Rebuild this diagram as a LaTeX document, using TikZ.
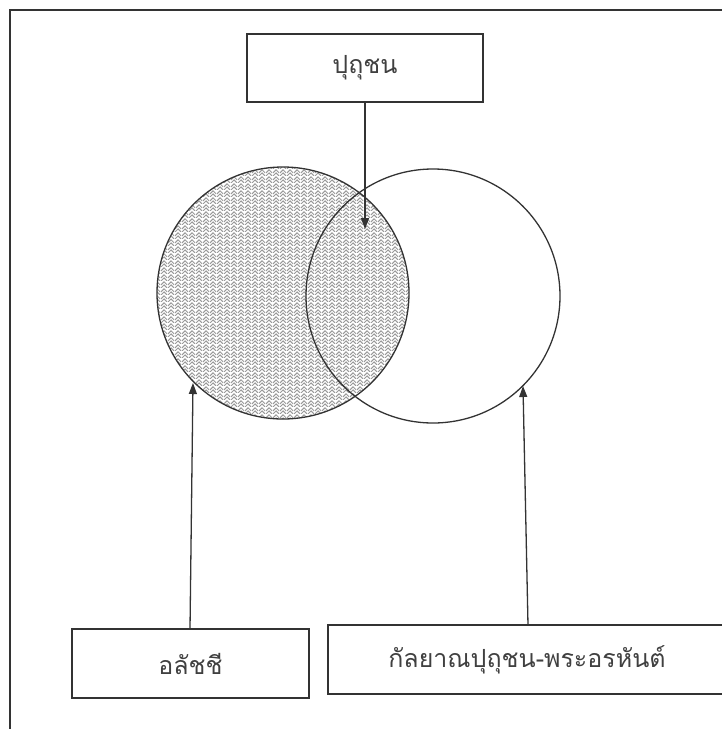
\documentclass[tikz,border=0pt]{standalone}
\usepackage{fontspec}
\newfontfamily\thaifont[Script=Thai]{Loma}
\usetikzlibrary{arrows.meta,patterns.meta}
\tikzdeclarepattern{
  name=weave,
  type=uncolored,
  bounding box={(0,0) and (7pt,7pt)},
  tile size={(7pt,7pt)},
  code={
    \draw[line width=1.1pt] (0,0) -- (3.5pt,3.5pt) -- (7pt,0);
    \draw[line width=1.1pt] (0,3.5pt) -- (3.5pt,7pt) -- (7pt,3.5pt);
  }
}
\tikzset{
  line/.style={draw=black!80, line width=1.3pt},
  box/.style={line, rectangle, inner sep=0pt, font=\thaifont\fontsize{25}{30}\selectfont, text=black!75},
  arr/.style={line, -{Triangle[length=11pt,width=8pt]}},
}
\begin{document}
\begin{tikzpicture}[x=1pt,y=-1pt]
\useasboundingbox (0,0) rectangle (722,729);
\clip (0,0) rectangle (722,729);
% outer frame
\draw[line] (10,729) -- (10,10) -- (730,10);
% circles
\path[pattern={weave}, pattern color=black!40] (283,293) circle (126);
\draw[line] (283,293) circle (126);
\draw[line] (433,296) circle (127);
% boxes
\node[box, minimum width=236, minimum height=68] (top) at (365,68) {ปุถุชน};
\node[box, minimum width=237, minimum height=69] (left) at (190.5,663.5) {อลัชชี};
\node[box, minimum width=398, minimum height=69, text width=398, align=center] (right) at (527,659.5) {กัลยาณปุถุชน-พระอรหันต์};
% arrow targets
\coordinate (ttip) at (365,229);
\coordinate (ltip) at (193,383);
\coordinate (rtip) at (523,386);
\coordinate (lfrom) at (190,629);
\coordinate (rfrom) at (528,625);
\draw[arr] (top.south) -- (ttip);
\draw[arr] (lfrom) -- (ltip);
\draw[arr] (rfrom) -- (rtip);
\end{tikzpicture}
\end{document}
